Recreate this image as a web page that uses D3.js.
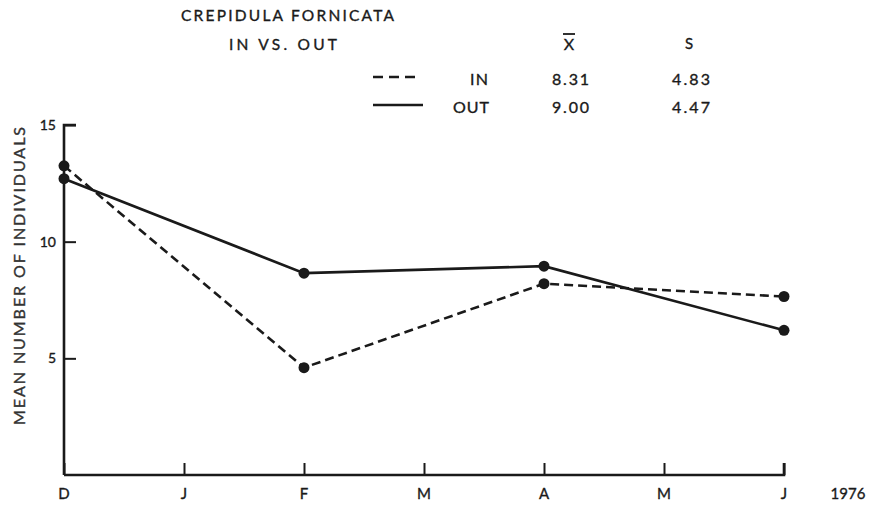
<!DOCTYPE html>
<html>
<head>
<meta charset="utf-8">
<script src="https://cdn.jsdelivr.net/npm/d3@7/dist/d3.min.js"></script>
<style>
  html, body { margin: 0; padding: 0; background: #fff; }
  text { font-family: Lato, "Open Sans", "DejaVu Sans", sans-serif; font-weight: 400;
         fill: #1a1a1a; stroke: #1a1a1a; stroke-width: 0.35px; }
</style>
</head>
<body>
<svg id="chart" width="871" height="505"></svg>
<script>
// Sampling months (Dec 1975 – Jun 1976)
const months = ["D", "J", "F", "M", "A", "M", "J"];
const yTicks = [5, 10, 15];

// Mean number of Crepidula fornicata per sample, by sampling month index
const sampleIdx = [0, 2, 4, 6];
const inValues  = [13.25, 4.6, 8.2, 7.65];
const outValues = [12.7, 8.65, 8.95, 6.2];

// Summary statistics shown in the key
const seriesNames = ["IN", "OUT"];
const seriesMean  = ["8.31", "9.00"];
const seriesSD    = ["4.83", "4.47"];

const svg = d3.select("#chart");
const ink = "#1a1a1a";

const x = d3.scaleLinear().domain([0, 6]).range([64, 784]);
const y = d3.scaleLinear().domain([0, 15]).range([475, 125]);

// Axes: ticks point inward
const xAxis = d3.axisTop(x).tickValues(d3.range(7)).tickSize(12).tickFormat("");
const gx = svg.append("g").attr("transform", `translate(0,${y(0)})`).call(xAxis);
const yAxis = d3.axisRight(y).tickValues(yTicks).tickSize(12).tickFormat("");
const gy = svg.append("g").attr("transform", `translate(${x(0)},0)`).call(yAxis);
[gx, gy].forEach(g => {
  g.select(".domain").attr("stroke", ink).attr("stroke-width", 2.6).attr("d",
    g === gx ? `M${x(0)},0H${x(6)}V-12` : `M0,${y(0)}V${y(15)}H12`);
  g.selectAll(".tick line").attr("stroke", ink).attr("stroke-width", 2);
});

// Tick labels
svg.append("g").selectAll("text").data(months).join("text")
  .attr("x", (d, i) => x(i)).attr("y", 499)
  .attr("text-anchor", "middle").attr("font-size", 15).text(d => d);
svg.append("text").attr("x", 848).attr("y", 499).attr("text-anchor", "middle")
  .attr("font-size", 15).text("1976");
svg.append("g").selectAll("text").data(yTicks).join("text")
  .attr("x", x(0) - 8).attr("y", d => y(d) + 5)
  .attr("text-anchor", "end").attr("font-size", 14).text(d => d);

// Axis title
svg.append("text").attr("transform", `translate(25,276) rotate(-90)`)
  .attr("text-anchor", "middle").attr("font-size", 16)
  .style("fill", "#333").style("stroke", "#333")
  .attr("textLength", 298).attr("lengthAdjust", "spacing")
  .text("MEAN NUMBER OF INDIVIDUALS");

// Series lines and markers
const line = d3.line().x(d => x(d[0])).y(d => y(d[1]));
const inPts  = sampleIdx.map((m, i) => [m, inValues[i]]);
const outPts = sampleIdx.map((m, i) => [m, outValues[i]]);

svg.append("path").datum(outPts).attr("d", line).attr("fill", "none")
  .attr("stroke", ink).attr("stroke-width", 2.6);
svg.append("path").datum(inPts).attr("d", line).attr("fill", "none")
  .attr("stroke", ink).attr("stroke-width", 2.6).attr("stroke-dasharray", "9,5");

svg.append("g").selectAll("circle").data(inPts.concat(outPts)).join("circle")
  .attr("cx", d => x(d[0])).attr("cy", d => y(d[1])).attr("r", 5.5).attr("fill", ink);

// Title and key
svg.append("text").attr("x", 181).attr("y", 21).attr("font-size", 15.5)
  .attr("textLength", 213).attr("lengthAdjust", "spacing").text("CREPIDULA FORNICATA");
svg.append("text").attr("x", 229).attr("y", 50).attr("font-size", 15.5)
  .attr("textLength", 108).attr("lengthAdjust", "spacing").text("IN VS. OUT");
svg.append("text").attr("x", 569).attr("y", 50).attr("text-anchor", "middle")
  .attr("font-size", 16).text("X");
svg.append("line").attr("x1", 563).attr("x2", 575).attr("y1", 34).attr("y2", 34)
  .attr("stroke", ink).attr("stroke-width", 1.8);
svg.append("text").attr("x", 689).attr("y", 49).attr("text-anchor", "middle")
  .attr("font-size", 15).text("S");

const keyRows = [0, 1];
const rowY = [85, 113];
const key = svg.append("g").selectAll("g").data(keyRows).join("g")
  .attr("transform", i => `translate(0,${rowY[i]})`);
key.append("line").attr("x1", 373).attr("x2", i => i === 0 ? 420 : 423)
  .attr("y1", -8).attr("y2", -8)
  .attr("stroke", ink).attr("stroke-width", 2.6)
  .attr("stroke-dasharray", i => i === 0 ? "10,6" : null);
key.append("text").attr("x", i => i === 0 ? 470 : 453).attr("y", 0)
  .attr("font-size", 16)
  .attr("textLength", i => i === 0 ? 18 : 36).attr("lengthAdjust", "spacing")
  .text(i => seriesNames[i]);
key.append("text").attr("x", 552).attr("y", 0).attr("font-size", 16)
  .attr("textLength", 37).attr("lengthAdjust", "spacing")
  .text(i => seriesMean[i]);
key.append("text").attr("x", 672).attr("y", 0).attr("font-size", 16)
  .attr("textLength", 38).attr("lengthAdjust", "spacing")
  .text(i => seriesSD[i]);
</script>
</body>
</html>
